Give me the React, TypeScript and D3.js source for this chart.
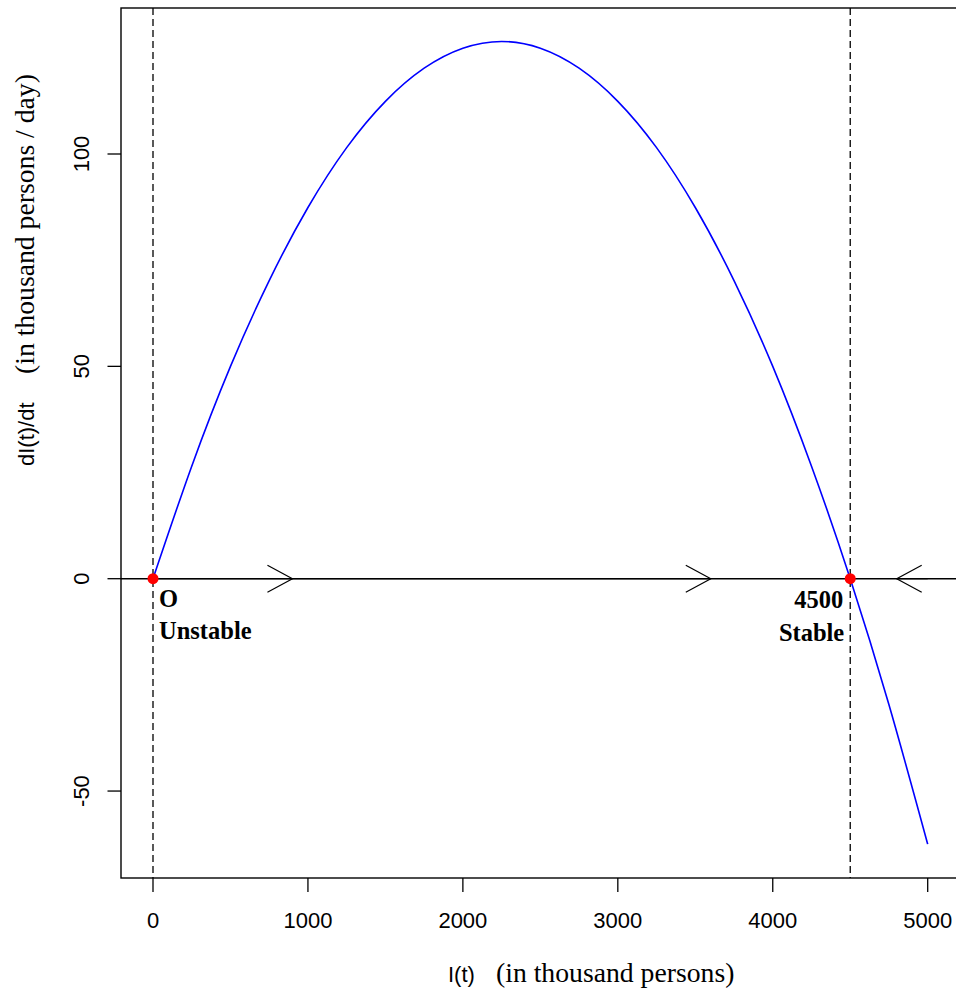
import React from "react";
import * as d3 from "d3";

// Values
const infected = [0, 250, 500, 750, 1000, 1250, 1500, 1750, 2000, 2250, 2500, 2750, 3000, 3250, 3500, 3750, 4000, 4250, 4500, 4750, 5000];
const growthRate = [0, 26.5, 50.0, 70.2, 87.4, 101.5, 112.4, 120.2, 124.9, 126.5, 124.9, 120.2, 112.4, 101.5, 87.4, 70.2, 50.0, 26.5, 0, -29.7, -62.5];

const xTicks = [0, 1000, 2000, 3000, 4000, 5000];
const yTicks = [-50, 0, 50, 100];

const equilibria = [0, 4500];
const eqValueLabels = ["O", "4500"];
const eqStabilityLabels = ["Unstable", "Stable"];

const arrowStarts = [0, 900, 5000];
const arrowTips = [900, 3600, 4800];

const W = 956;
const H = 988;

const SANS = "'Liberation Sans', Arial, sans-serif";
const SERIF = "'Liberation Serif', 'Times New Roman', serif";

export default function App() {
  const x = d3.scaleLinear().domain([0, 5000]).range([153, 927.7]);
  const y = d3.scaleLinear().domain([0, 100]).range([578.7, 154]);

  const left = 121;
  const right = x(5206);
  const top = 8;
  const bottom = 878;

  const line = d3
    .line<number>()
    .x((_, i) => x(infected[i]))
    .y((d) => y(d))
    .curve(d3.curveNatural);

  const pathD = line(growthRate) || "";

  const arrowHead = (tip: number, from: number) => {
    const tx = x(tip);
    const ty = y(0);
    const dir = tip > from ? 1 : -1;
    const back = 25 * dir;
    return `M${tx - back},${ty - 13.5}L${tx},${ty}L${tx - back},${ty + 13.5}`;
  };

  return (
    <svg
      width={W}
      height={H}
      style={{ position: "absolute", left: 0, top: 0, background: "#fff" }}
    >
      <defs>
        <clipPath id="plotclip">
          <rect x={left} y={top} width={right - left} height={bottom - top} />
        </clipPath>
      </defs>

      {/* dashed vertical lines at equilibria */}
      {equilibria.map((e, i) => (
        <line
          key={"v" + i}
          x1={x(e)}
          x2={x(e)}
          y1={top}
          y2={bottom}
          stroke="#000"
          strokeWidth={1.3}
          strokeDasharray="7,4"
        />
      ))}

      {/* horizontal zero line */}
      <line x1={left} x2={right} y1={y(0)} y2={y(0)} stroke="#000" strokeWidth={1.4} />

      {/* arrows */}
      {arrowTips.map((t, i) => (
        <g key={"a" + i} clipPath="url(#plotclip)">
          <line x1={x(arrowStarts[i])} x2={x(t)} y1={y(0)} y2={y(0)} stroke="#000" strokeWidth={1.2} />
          <path d={arrowHead(t, arrowStarts[i])} fill="none" stroke="#000" strokeWidth={1.2} />
        </g>
      ))}

      {/* curve */}
      <path d={pathD} fill="none" stroke="#0000ff" strokeWidth={1.6} clipPath="url(#plotclip)" />

      {/* equilibrium points */}
      {equilibria.map((e, i) => (
        <circle key={"p" + i} cx={x(e)} cy={y(0)} r={5.5} fill="#ff0000" />
      ))}

      {/* equilibrium labels */}
      <text x={x(equilibria[0]) + 6} y={y(0) + 28.5} fontFamily={SERIF} fontWeight="bold" fontSize={24.5} fill="#000">
        {eqValueLabels[0]}
      </text>
      <text x={x(equilibria[0]) + 6} y={y(0) + 60.5} fontFamily={SERIF} fontWeight="bold" fontSize={24.5} fill="#000">
        {eqStabilityLabels[0]}
      </text>
      <text x={x(equilibria[1]) - 7} y={y(0) + 29.5} fontFamily={SERIF} fontWeight="bold" fontSize={24.5} fill="#000" textAnchor="end">
        {eqValueLabels[1]}
      </text>
      <text x={x(equilibria[1]) - 6} y={y(0) + 62.5} fontFamily={SERIF} fontWeight="bold" fontSize={24.5} fill="#000" textAnchor="end">
        {eqStabilityLabels[1]}
      </text>

      {/* box */}
      <rect x={left} y={top} width={right - left} height={bottom - top} fill="none" stroke="#000" strokeWidth={1.4} />

      {/* x axis ticks */}
      {xTicks.map((t) => (
        <g key={"xt" + t}>
          <line x1={x(t)} x2={x(t)} y1={bottom} y2={bottom + 14} stroke="#000" strokeWidth={1.3} />
          <text x={x(t)} y={928} textAnchor="middle" fontFamily={SANS} fontSize={22} fill="#000">
            {t}
          </text>
        </g>
      ))}

      {/* y axis ticks */}
      {yTicks.map((t) => (
        <g key={"yt" + t}>
          <line x1={left - 13.5} x2={left} y1={y(t)} y2={y(t)} stroke="#000" strokeWidth={1.3} />
          <text
            transform={`translate(89,${y(t)}) rotate(-90)`}
            textAnchor="middle"
            fontFamily={SANS}
            fontSize={22}
            fill="#000"
          >
            {t}
          </text>
        </g>
      ))}

      {/* x axis title */}
      <text x={448} y={982} fontFamily={SANS} fontSize={22} fill="#000">
        I(t)
      </text>
      <text x={496} y={982} fontFamily={SERIF} fontSize={27.7} fill="#000">
        (in thousand persons)
      </text>

      {/* y axis title */}
      <text transform="translate(34,466) rotate(-90)" fontFamily={SANS} fontSize={22} fill="#000">
        dI(t)/dt
      </text>
      <text transform="translate(34,374) rotate(-90)" fontFamily={SERIF} fontSize={27.7} fill="#000">
        (in thousand persons / day)
      </text>
    </svg>
  );
}
